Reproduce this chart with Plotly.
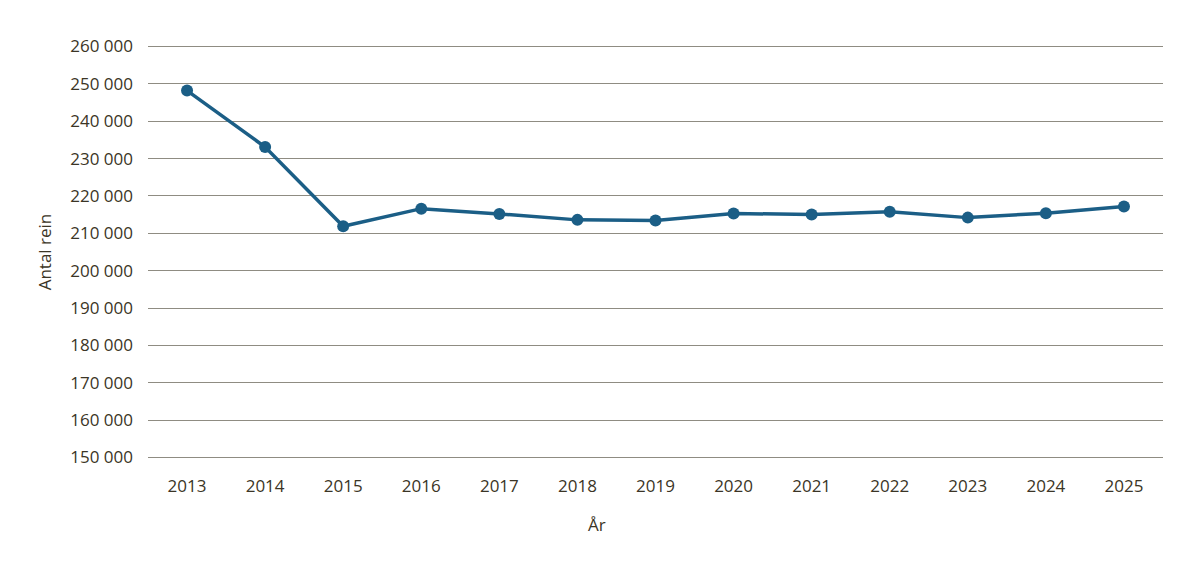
import plotly.graph_objects as go

years = ["2013", "2014", "2015", "2016", "2017", "2018", "2019", "2020", "2021", "2022", "2023", "2024", "2025"]
reindeer = [248200, 233100, 211900, 216600, 215200, 213600, 213400, 215300, 215050, 215800, 214200, 215400, 217200]
y_ticks = [150000, 160000, 170000, 180000, 190000, 200000, 210000, 220000, 230000, 240000, 250000, 260000]

text_color = "#3b3526"
line_color = "#1b5e86"

fig = go.Figure(go.Scatter(
    x=years, y=reindeer, mode="lines+markers",
    line=dict(color=line_color, width=3.5),
    marker=dict(color=line_color, size=12),
    hoverinfo="x+y",
))

fig.update_layout(
    width=1198, height=568,
    margin=dict(l=140, r=43, t=36.5, b=116.5),
    paper_bgcolor="white", plot_bgcolor="white",
    font=dict(family="Open Sans", size=16, color=text_color),
    separators=", ",
    showlegend=False,
    xaxis=dict(
        type="category", range=[-0.5, 12.5], automargin=False,
        showgrid=False, showline=False, zeroline=False,
        ticks="", ticklabelstandoff=15,
        tickfont=dict(size=17, color=text_color),
    ),
    yaxis=dict(
        range=[149600, 260400], tickvals=y_ticks, tickformat=",d", automargin=False,
        showgrid=True, gridcolor="#8f8c82", gridwidth=1,
        zeroline=False, showline=False, ticks="",
        ticklabelstandoff=14,
        tickfont=dict(size=17, color=text_color),
        title=dict(text="Antal rein", standoff=14, font=dict(size=17, color=text_color)),
    ),
    annotations=[dict(
        text="År", xref="paper", yref="paper", x=0.4425, y=-0.158,
        xanchor="center", yanchor="middle", showarrow=False,
        font=dict(size=17, color=text_color),
    )],
)

fig.write_html("out.html")
